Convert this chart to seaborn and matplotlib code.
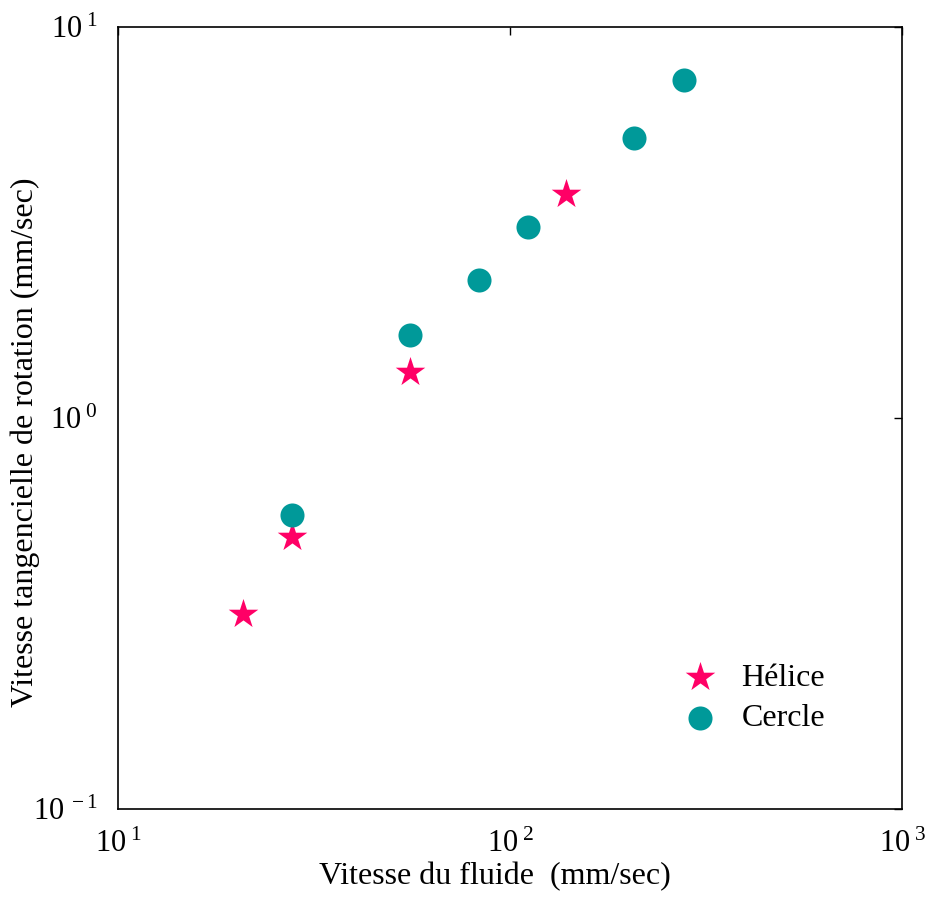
import pandas as pd
import matplotlib
matplotlib.use("Agg")
import matplotlib.pyplot as plt
import seaborn as sns
from matplotlib.ticker import LogLocator, FuncFormatter, NullLocator
import numpy as np

sns.set_style("white")
plt.rcParams.update({
    "font.family": ["Liberation Serif", "DejaVu Serif"],
    "mathtext.fontset": "custom",
    "mathtext.rm": "Liberation Serif",
    "mathtext.it": "Liberation Serif:italic",
    "mathtext.bf": "Liberation Serif:bold",
    "text.color": "black",
    "axes.labelcolor": "black",
})

# data
helice_x = [20.8, 27.8, 55.6, 139]
helice_y = [0.315, 0.497, 1.311, 3.74]
cercle_x = [27.8, 55.6, 83.4, 111.2, 207, 278]
cercle_y = [0.565, 1.63, 2.25, 3.08, 5.20, 7.31]

df = pd.DataFrame({
    "x": helice_x + cercle_x,
    "y": helice_y + cercle_y,
    "forme": ["Hélice"] * len(helice_x) + ["Cercle"] * len(cercle_x),
})

colors = {"Hélice": "#ff0066", "Cercle": "#009999"}
markers = {"Hélice": "*", "Cercle": "o"}
sizes = {"Hélice": 500, "Cercle": 300}

fig = plt.figure(figsize=(9.25, 8.97), dpi=100)
ax = fig.add_axes([118/925, 88/897, 784/925, 782/897])

for name in ["Hélice", "Cercle"]:
    sub = df[df["forme"] == name]
    sns.scatterplot(data=sub, x="x", y="y", ax=ax, color=colors[name],
                    marker=markers[name], s=sizes[name], linewidth=0,
                    label=name, zorder=3)

ax.set_xscale("log")
ax.set_yscale("log")
ax.set_xlim(10, 1000)
ax.set_ylim(0.1, 10)


def pow_fmt(v, pos):
    e = int(round(np.log10(v)))
    return r"$10^{\;%d}$" % e


ax.xaxis.set_major_locator(LogLocator(base=10, numticks=5))
ax.yaxis.set_major_locator(LogLocator(base=10, numticks=5))
ax.xaxis.set_minor_locator(NullLocator())
ax.yaxis.set_minor_locator(NullLocator())
ax.xaxis.set_major_formatter(FuncFormatter(pow_fmt))
ax.yaxis.set_major_formatter(FuncFormatter(pow_fmt))

ax.tick_params(which="major", direction="in", length=6, width=1,
               top=True, right=True, labelsize=22, colors="black")
ax.tick_params(axis="x", pad=15)
ax.tick_params(axis="y", pad=15)
for s in ax.spines.values():
    s.set_color("black")
    s.set_linewidth(1.2)

ax.set_xlabel("Vitesse du fluide  (mm/sec)", fontsize=23)
ax.set_ylabel("Vitesse tangencielle de rotation (mm/sec)", fontsize=23)
ax.xaxis.set_label_coords(0.481, -0.068)
ax.yaxis.set_label_coords(-0.0995, 0.469)

leg = ax.legend(loc="lower left", bbox_to_anchor=(0.665, 0.06), frameon=False,
                fontsize=23, handletextpad=0.3, labelspacing=0.35,
                markerscale=1.0)

plt.savefig("out.png", dpi=100)
